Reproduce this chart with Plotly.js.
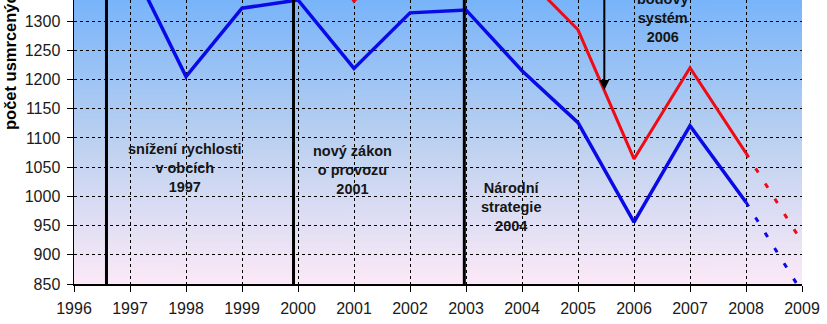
<!DOCTYPE html>
<html>
<head>
<meta charset="utf-8">
<script src="https://cdn.plot.ly/plotly-3.0.1.min.js"></script>
<style>html,body{margin:0;padding:0;background:#fff;}#chart{width:827px;height:324px;}</style>
</head>
<body>
<div id="chart"></div>
<script>
// Data (values above 1336 are off the cropped top and estimated)
const years = [1996, 1997, 1998, 1999, 2000, 2001, 2002, 2003, 2004, 2005, 2006, 2007, 2008];
const deathsBlue = [1386, 1400, 1205, 1322, 1336, 1219, 1314, 1319, 1215, 1126, 956, 1121, 990];
const deathsRed  = [1568, 1597, 1360, 1455, 1486, 1334, 1431, 1447, 1382, 1285, 1064, 1220, 1074];
const trendYears = [2008, 2009];
const trendBlue = [990, 836];
const trendRed = [1074, 922];
const milestoneYears = [1996.58, 1999.92, 2002.97];
const labels = [
  {text: 'snížení rychlosti<br>v obcích<br>1997', x: 1997.98, y: 1049},
  {text: 'nový zákon<br>o provozu<br>2001', x: 2000.98, y: 1045},
  {text: 'Národní<br>strategie<br>2004', x: 2003.8, y: 982},
  {text: 'bodový<br>systém<br>2006', x: 2006.51, y: 1305}
];
const arrowPoint = {x: 2005.47, y: 1182};
const yTitle = 'počet usmrcených';

// gradient background image
const cv = document.createElement('canvas');
cv.width = 4; cv.height = 284;
const ctx = cv.getContext('2d');
const g = ctx.createLinearGradient(0, 0, 0, 284);
g.addColorStop(0, 'rgb(120,180,250)');
g.addColorStop(0.5, 'rgb(188,209,240)');
g.addColorStop(1, 'rgb(252,233,247)');
ctx.fillStyle = g;
ctx.fillRect(0, 0, 4, 284);
const bgURL = cv.toDataURL('image/png');

const traces = [
  {x: years, y: deathsBlue, mode: 'lines', line: {color: '#0a0ae6', width: 3.5}, hoverinfo: 'skip'},
  {x: years, y: deathsRed, mode: 'lines', line: {color: '#f00a14', width: 3}, hoverinfo: 'skip'},
  {x: trendYears, y: trendBlue, mode: 'lines', line: {color: '#0a0ae6', width: 3, dash: '5px,13px'}, hoverinfo: 'skip'},
  {x: trendYears, y: trendRed, mode: 'lines', line: {color: '#f00a14', width: 3, dash: '5px,13px'}, hoverinfo: 'skip'}
];

const tickFont = {family: '"Liberation Sans", Arial, sans-serif', size: 16, color: '#1a1a1a'};
const annFont = {family: '"Liberation Sans", Arial, sans-serif', size: 14.5, color: '#151515'};

const annotations = labels.map(l => ({
  x: l.x, y: l.y, xref: 'x', yref: 'y', text: '<b>' + l.text + '</b>',
  showarrow: false, font: annFont, xanchor: 'center', yanchor: 'middle', align: 'center'
}));
annotations.push({
  x: arrowPoint.x, y: arrowPoint.y, xref: 'x', yref: 'y', ax: arrowPoint.x, ay: 1420,
  axref: 'x', ayref: 'y', text: '', showarrow: true, arrowhead: 2, arrowsize: 1,
  arrowwidth: 2, arrowcolor: '#000'
});
annotations.push({
  x: -0.088, y: 0.535, xref: 'paper', yref: 'paper', text: '<b>' + yTitle + '</b>',
  textangle: -90, showarrow: false, xanchor: 'center', yanchor: 'bottom',
  font: {family: '"Liberation Sans", Arial, sans-serif', size: 16.5, color: '#000'}
});

const shapes = milestoneYears.map(v => ({
  type: 'line', xref: 'x', yref: 'paper', x0: v, x1: v, y0: 0, y1: 1,
  line: {color: '#000', width: 3}
}));

const layout = {
  width: 827, height: 324,
  margin: {l: 74, r: 25, t: 0, b: 40, pad: 0},
  paper_bgcolor: '#fff',
  plot_bgcolor: 'rgba(0,0,0,0)',
  showlegend: false,
  xaxis: {
    range: [1996, 2009], dtick: 1, tick0: 1996, tickmode: 'linear',
    showline: true, linecolor: '#000', linewidth: 1.5,
    ticks: 'outside', ticklen: 6, tickcolor: '#000', tickwidth: 1,
    showgrid: true, gridcolor: '#000', gridwidth: 1, griddash: '3px,3px',
    zeroline: false, tickfont: tickFont, ticklabelstandoff: 3, fixedrange: true
  },
  yaxis: {
    range: [850, 1336], dtick: 50, tick0: 850, tickmode: 'linear',
    showline: true, linecolor: '#000', linewidth: 1.5,
    ticks: 'outside', ticklen: 6, tickcolor: '#000', tickwidth: 1,
    showgrid: true, gridcolor: '#000', gridwidth: 1, griddash: '3px,3px',
    zeroline: false, tickfont: tickFont, ticklabelstandoff: 3, fixedrange: true
  },
  images: [{
    source: bgURL, xref: 'paper', yref: 'paper', x: 0, y: 1, sizex: 1, sizey: 1,
    sizing: 'stretch', xanchor: 'left', yanchor: 'top', layer: 'below'
  }],
  shapes: shapes,
  annotations: annotations
};

Plotly.newPlot('chart', traces, layout, {staticPlot: true, displayModeBar: false});
</script>
</body>
</html>
